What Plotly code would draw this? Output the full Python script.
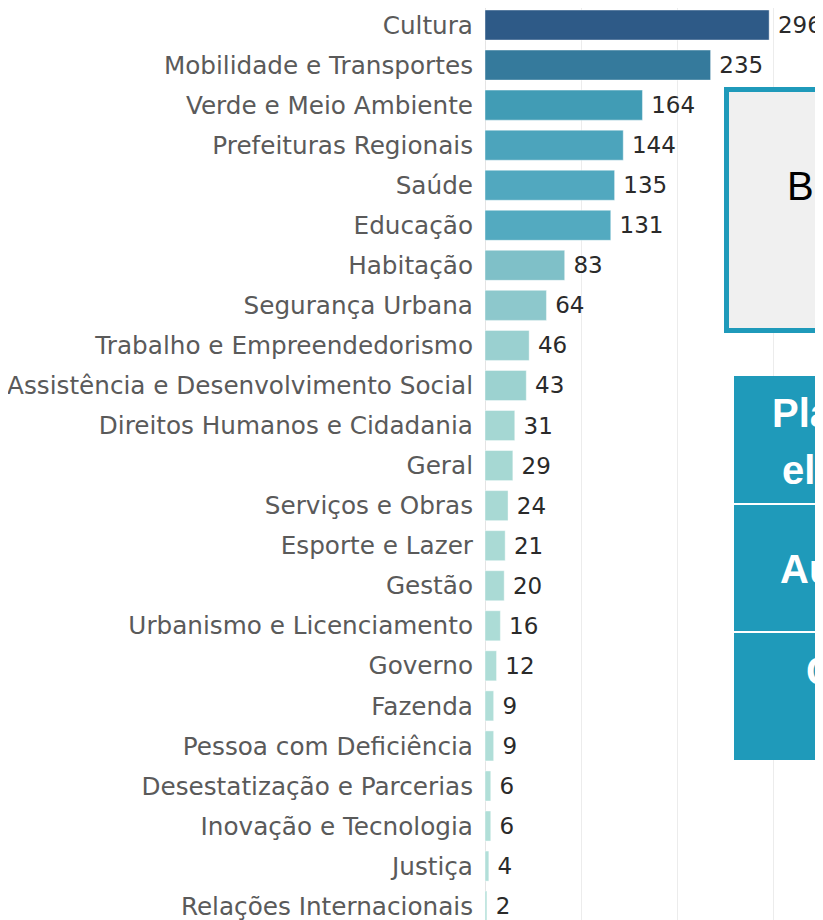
import plotly.graph_objects as go

categories = [
    "Cultura", "Mobilidade e Transportes", "Verde e Meio Ambiente",
    "Prefeituras Regionais", "Saúde", "Educação", "Habitação",
    "Segurança Urbana", "Trabalho e Empreendedorismo",
    "Assistência e Desenvolvimento Social", "Direitos Humanos e Cidadania",
    "Geral", "Serviços e Obras", "Esporte e Lazer", "Gestão",
    "Urbanismo e Licenciamento", "Governo", "Fazenda",
    "Pessoa com Deficiência", "Desestatização e Parcerias",
    "Inovação e Tecnologia", "Justiça", "Relações Internacionais",
]
values = [296, 235, 164, 144, 135, 131, 83, 64, 46, 43, 31, 29, 24, 21, 20,
          16, 12, 9, 9, 6, 6, 4, 2]

overlay_title = "Busca"
overlay_items = [["Plataforma", "eletrônica"], ["Audiências"], ["Contribuições"]]

OFF = 8  # page body margin
W, H = 823, 920
ML, MR, MT, MB = 485 - OFF, 0, 0, 0
PW, PH = W - ML - MR, H - MT - MB
ROW = 40.05
top = -0.5 + (OFF - 5) / ROW


def px(x):
    return (x - OFF - ML) / PW


def py(y):
    return 1 - (y - OFF - MT) / PH


vmin, vmax = min(values), max(values)
stops = [(2, "#b3e0d9"), (31, "#a5d7d3"), (64, "#8dc8cc"), (83, "#7fc0c8"),
         (131, "#53aac0"), (164, "#419cb5"), (235, "#357a9c"), (296, "#2e5a87")]
colorscale = [[(v - vmin) / (vmax - vmin), c] for v, c in stops]

fig = go.Figure(go.Bar(
    y=categories, x=values, orientation="h",
    marker=dict(color=values, colorscale=colorscale, cmin=vmin, cmax=vmax,
                line=dict(width=0.6, color="rgba(255,255,255,0.7)")),
    texttemplate="\u2005%{x}", textposition="outside", cliponaxis=False,
    textfont=dict(family="DejaVu Sans", size=23, color="#2a2a2a"),
    hoverinfo="skip",
))

fig.update_layout(
    width=W, height=H,
    margin=dict(l=ML, r=MR, t=MT, b=MB),
    paper_bgcolor="white", plot_bgcolor="white",
    bargap=0.25, showlegend=False,
    xaxis=dict(range=[0, PW / 0.96], showticklabels=False,
               tickvals=[100, 200, 300], showgrid=True, gridcolor="#ececec",
               gridwidth=1, zeroline=True, zerolinecolor="#e4e4e4",
               zerolinewidth=1, showline=False, fixedrange=True),
    yaxis=dict(categoryorder="array", categoryarray=categories,
               range=[top + PH / ROW, top], showgrid=False, showline=False,
               ticks="", ticklabelstandoff=11, automargin=False,
               tickfont=dict(family="DejaVu Sans", size=24.7, color="#5a5a5a")),
)

teal = "#1f9aba"
shapes = [
    dict(type="rect", xref="paper", yref="paper",
         x0=px(726.5), x1=px(900), y0=py(89.5), y1=py(330.5),
         fillcolor="#f0f0f0", line=dict(color=teal, width=5), layer="above"),
    dict(type="rect", xref="paper", yref="paper",
         x0=px(734), x1=px(900), y0=py(376), y1=py(760),
         fillcolor=teal, line=dict(width=0), layer="above"),
    dict(type="line", xref="paper", yref="paper",
         x0=px(734), x1=px(900), y0=py(504), y1=py(504),
         line=dict(color="white", width=2), layer="above"),
    dict(type="line", xref="paper", yref="paper",
         x0=px(734), x1=px(900), y0=py(632), y1=py(632),
         line=dict(color="white", width=2), layer="above"),
]
fig.update_layout(shapes=shapes)

ann = [dict(text=overlay_title, x=px(785), y=py(186), xref="paper",
            yref="paper", xanchor="left", yanchor="middle", showarrow=False,
            font=dict(family="Liberation Sans", size=40, color="black"))]
line_pos = [[(770, 413), (780, 470)], [(778, 569)], [(804, 671)]]
for item, poss in zip(overlay_items, line_pos):
    for txt, (x, y) in zip(item, poss):
        ann.append(dict(text="<b>" + txt + "</b>", x=px(x), y=py(y),
                        xref="paper", yref="paper", xanchor="left",
                        yanchor="middle", showarrow=False,
                        font=dict(family="Liberation Sans", size=40,
                                  color="white")))
fig.update_layout(annotations=ann)

fig.write_html("out.html")
